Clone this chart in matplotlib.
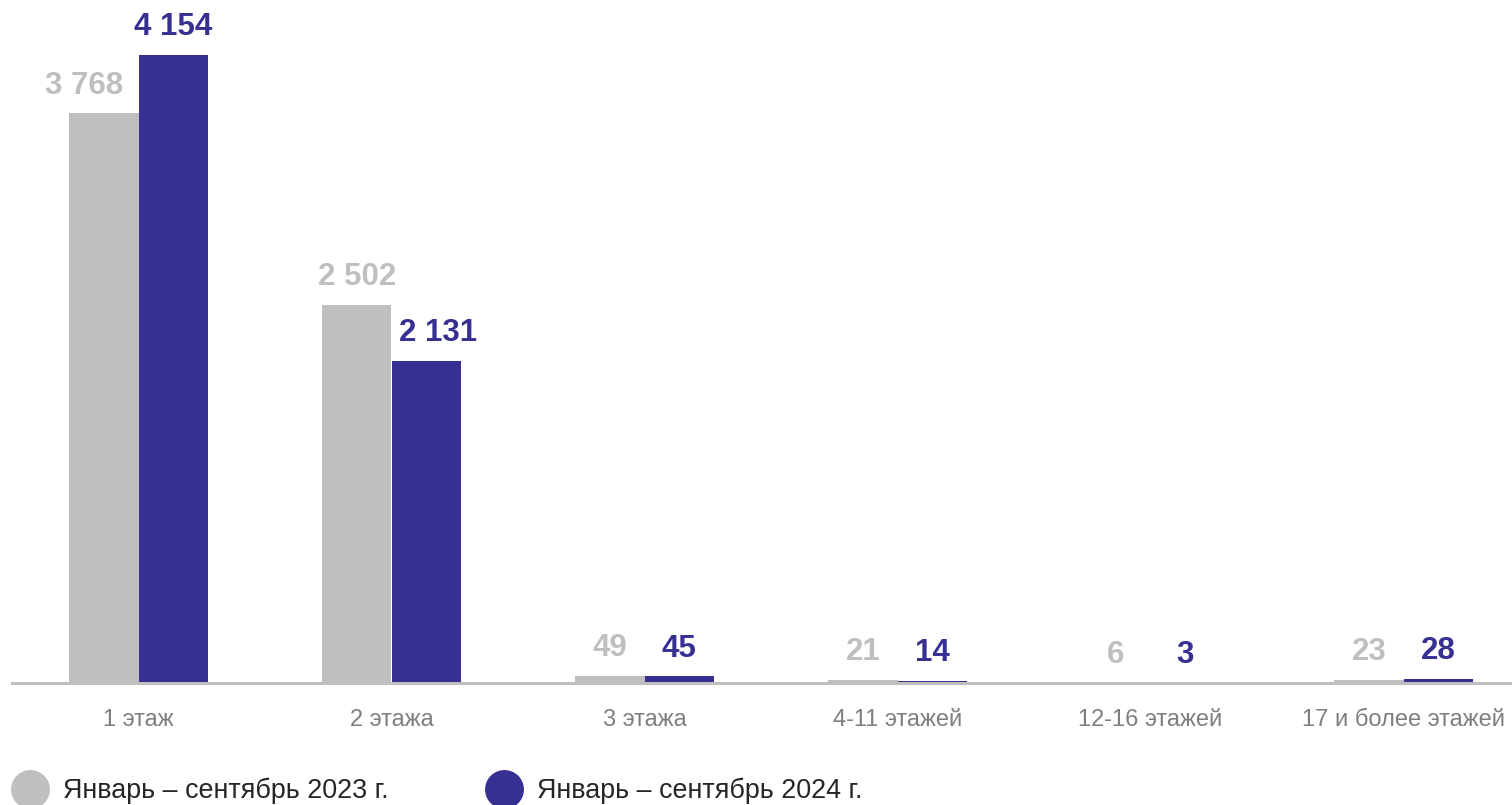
import matplotlib
matplotlib.use("Agg")
import matplotlib.pyplot as plt
from matplotlib.lines import Line2D
import numpy as np

# data
categories = ["1 этаж", "2 этажа", "3 этажа", "4-11 этажей", "12-16 этажей", "17 и более этажей"]
vals_2023 = [3768, 2502, 49, 21, 6, 23]
vals_2024 = [4154, 2131, 45, 14, 3, 28]
series_names = ["Январь – сентябрь 2023 г.", "Январь – сентябрь 2024 г."]

GREY = "#BFBFBF"
BLUE = "#373093"

plt.rcParams["font.family"] = ["Liberation Sans", "DejaVu Sans"]

fig = plt.figure(figsize=(15.12, 8.05), dpi=100)
ax = fig.add_axes([12 / 1512, 122 / 805, 1518 / 1512, 683 / 805])

x = np.arange(len(categories))
w = 0.273
b1 = ax.bar(x - w / 2, vals_2023, w, color=GREY)
b2 = ax.bar(x + w / 2, vals_2024, w, color=BLUE)


def fmt(v):
    return f"{v:,}".replace(",", " ")


# labels nudged sideways where they would collide with the neighbour bar
shift_2023 = [-14, 0, 0, 0, 0, 0]
shift_2024 = [0, 9, 0, 0, 0, 0]

for r, v, dx in zip(b1, vals_2023, shift_2023):
    ax.annotate(fmt(v), (r.get_x() + r.get_width() / 2, v), xytext=(dx, 14),
                textcoords="offset points", ha="center", va="baseline",
                fontsize=22.5, fontweight="bold", color=GREY)
for r, v, dx in zip(b2, vals_2024, shift_2024):
    ax.annotate(fmt(v), (r.get_x() + r.get_width() / 2, v), xytext=(dx, 14),
                textcoords="offset points", ha="center", va="baseline",
                fontsize=22.5, fontweight="bold", color=BLUE)

ax.set_xlim(-0.5, len(categories) - 0.5)
ax.set_ylim(0, 4517)
ax.set_xticks(x)
ax.set_xticklabels(categories, fontsize=17, color="#7F7F7F")
ax.tick_params(axis="x", length=0, pad=18.5)
ax.set_yticks([])
for s in ["top", "right", "left"]:
    ax.spines[s].set_visible(False)
ax.spines["bottom"].set_color(GREY)
ax.spines["bottom"].set_linewidth(2.2)

handles = [Line2D([], [], marker="o", linestyle="", markersize=27, color=c)
           for c in (GREY, BLUE)]
fig.legend(handles, series_names, loc="center left",
           bbox_to_anchor=(17 / 1512, 1 - 791 / 805), ncol=2, frameon=False,
           fontsize=19.4, handlelength=1.0, handletextpad=0.72, columnspacing=3.77,
           borderpad=0, borderaxespad=0, labelcolor="#262626")

fig.savefig("out.png", dpi=100)
